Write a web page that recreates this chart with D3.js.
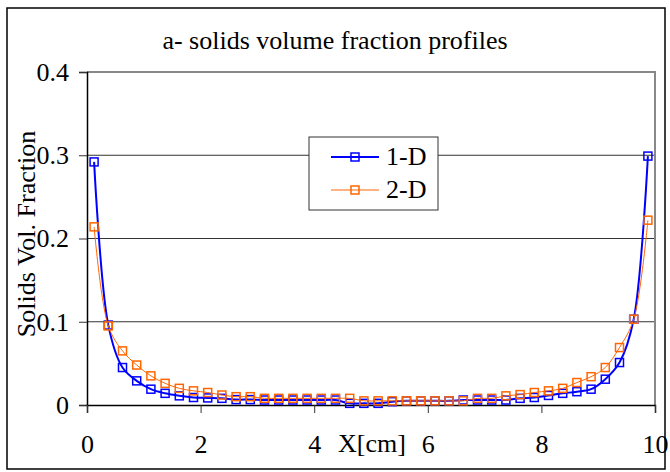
<!DOCTYPE html>
<html>
<head>
<meta charset="utf-8">
<script src="https://cdn.jsdelivr.net/npm/d3@7"></script>
<style>
  html, body { margin: 0; padding: 0; background: #fff; }
  svg { display: block; }
</style>
</head>
<body>
<svg id="chart" width="670" height="472"></svg>
<script>
// ---- data ----
const xPositions = [0.125, 0.375, 0.625, 0.875, 1.125, 1.375, 1.625, 1.875, 2.125, 2.375,
  2.625, 2.875, 3.125, 3.375, 3.625, 3.875, 4.125, 4.375, 4.625, 4.875,
  5.125, 5.375, 5.625, 5.875, 6.125, 6.375, 6.625, 6.875, 7.125, 7.375,
  7.625, 7.875, 8.125, 8.375, 8.625, 8.875, 9.125, 9.375, 9.625, 9.875];
const series1D = [0.292, 0.096, 0.045, 0.029, 0.019, 0.014, 0.011, 0.009, 0.0085, 0.008,
  0.0065, 0.0065, 0.006, 0.006, 0.006, 0.006, 0.006, 0.006, 0.002, 0.002,
  0.002, 0.004, 0.005, 0.005, 0.005, 0.005, 0.006, 0.006, 0.006, 0.006,
  0.008, 0.009, 0.0115, 0.014, 0.016, 0.019, 0.031, 0.051, 0.103, 0.299];
const series2D = [0.214, 0.095, 0.065, 0.048, 0.035, 0.026, 0.020, 0.017, 0.015, 0.012,
  0.010, 0.010, 0.008, 0.008, 0.008, 0.008, 0.008, 0.008, 0.008, 0.005,
  0.005, 0.005, 0.005, 0.005, 0.005, 0.005, 0.005, 0.008, 0.008, 0.011,
  0.0125, 0.015, 0.017, 0.020, 0.027, 0.034, 0.045, 0.069, 0.103, 0.222];
const xTicks = [0, 2, 4, 6, 8, 10];
const yTicks = [0, 0.1, 0.2, 0.3, 0.4];
const seriesNames = ["1-D", "2-D"];
const titleText = "a- solids volume fraction profiles";
const xLabel = "X[cm]";
const yLabel = "Solids Vol. Fraction";

// ---- layout ----
const svg = d3.select("#chart");
const pLeft = 87, pRight = 655, pTop = 72, pBottom = 405;
const x = d3.scaleLinear().domain([0, 10]).range([pLeft, pRight]);
const y = d3.scaleLinear().domain([0, 0.4]).range([pBottom, pTop]);
const FONT = 26;
const FAM = "'Liberation Serif', 'Times New Roman'";
const styleText = sel => sel.style("font-family", FAM).style("font-size", FONT + "px").attr("fill", "#000");

// outer frame
svg.append("rect").attr("x", 7).attr("y", 8).attr("width", 658).attr("height", 461)
  .attr("fill", "#fff").attr("stroke", "#000").attr("stroke-width", 1.5);

// title
svg.append("text").attr("x", 335).attr("y", 49).attr("text-anchor", "middle")
  .call(styleText).text(titleText);

// gridlines
svg.append("g").selectAll("line").data(yTicks.filter(d => d > 0 && d < 0.4)).join("line")
  .attr("x1", pLeft).attr("x2", pRight).attr("y1", d => y(d)).attr("y2", d => y(d))
  .attr("stroke", "#333").attr("stroke-width", 1);

// plot area top/right border (gray)
svg.append("path")
  .attr("d", `M${pLeft},${y(0.4)}H${pRight}V${pBottom}`)
  .attr("fill", "none").attr("stroke", "#888").attr("stroke-width", 2);

// axes
const yAxis = d3.axisLeft(y).tickValues(yTicks).tickSize(8).tickPadding(10)
  .tickFormat(d => d === 0 ? "0" : d3.format(".1f")(d));
const gy = svg.append("g").attr("transform", `translate(${pLeft},0)`).call(yAxis);
gy.select(".domain").attr("stroke", "#000").attr("stroke-width", 1.5);
gy.selectAll(".tick line").attr("stroke", "#333");
gy.selectAll(".tick text").call(styleText);

const xAxis = d3.axisBottom(x).tickValues(xTicks).tickSize(8).tickPadding(22)
  .tickFormat(d3.format("d"));
const gx = svg.append("g").attr("transform", `translate(0,${pBottom})`).call(xAxis);
gx.select(".domain").attr("stroke", "#000").attr("stroke-width", 1.5);
gx.selectAll(".tick line").attr("stroke", "#333");
gx.selectAll(".tick text").call(styleText);

// axis titles
svg.append("text").attr("x", 372).attr("y", 452).attr("text-anchor", "middle")
  .call(styleText).text(xLabel);
svg.append("text").attr("transform", "translate(35,234) rotate(-90)")
  .attr("text-anchor", "middle").call(styleText).text(yLabel);

// series
const colors = ["#0000FF", "#FF6600"];
const widths = [2, 1];
const data = [series1D, series2D];
const line = d3.line().x(d => x(d[0])).y(d => y(d[1])).curve(d3.curveCatmullRom.alpha(0.5));
const M = 8;

data.forEach((vals, k) => {
  const pts = xPositions.map((xv, i) => [xv, vals[i]]);
  const g = svg.append("g");
  g.append("path").attr("d", line(pts)).attr("fill", "none")
    .attr("stroke", colors[k]).attr("stroke-width", widths[k]);
  g.selectAll("rect").data(pts).join("rect")
    .attr("x", d => x(d[0]) - M / 2).attr("y", d => y(d[1]) - M / 2)
    .attr("width", M).attr("height", M)
    .attr("fill", "none").attr("stroke", colors[k]).attr("stroke-width", 1.5);
});

// legend
const lg = svg.append("g");
lg.append("rect").attr("x", 309).attr("y", 137).attr("width", 129).attr("height", 73)
  .attr("fill", "#fff").attr("stroke", "#333").attr("stroke-width", 1);
seriesNames.forEach((name, k) => {
  const ly = 157 + k * 33;
  lg.append("line").attr("x1", 331).attr("x2", 379).attr("y1", ly).attr("y2", ly)
    .attr("stroke", colors[k]).attr("stroke-width", widths[k]);
  lg.append("rect").attr("x", 355 - 4).attr("y", ly - 4).attr("width", 8).attr("height", 8)
    .attr("fill", "none").attr("stroke", colors[k]).attr("stroke-width", 1.5);
  lg.append("text").attr("x", 386).attr("y", ly + 8).call(styleText).text(name);
});
</script>
</body>
</html>
